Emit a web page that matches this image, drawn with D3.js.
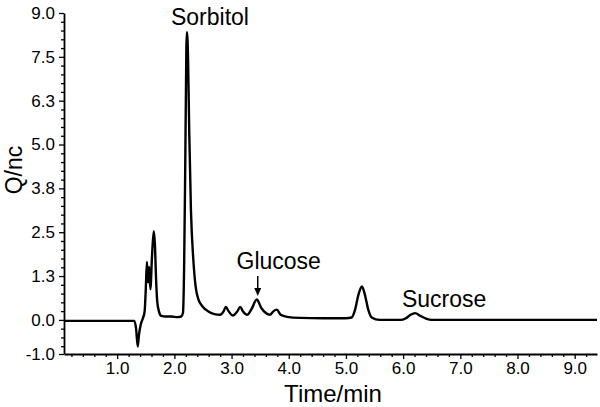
<!DOCTYPE html>
<html><head><meta charset="utf-8">
<script src="https://cdn.jsdelivr.net/npm/d3@7"></script>
<style>
body{margin:0;background:#fff;}
svg text{font-family:"Liberation Sans",Arial,sans-serif;fill:#000;}
</style></head>
<body><svg id="c" width="600" height="407"></svg>
<script>
// ---- data ----
const time = [0.07,0.80,1.30,1.33,1.36,1.38,1.41,1.45,1.48,1.50,1.52,1.54,1.56,1.58,1.61,1.64,1.66,1.68,1.70,1.73,1.77,1.85,1.95,2.05,2.12,2.15,2.17,2.19,2.21,2.22,2.24,2.26,2.29,2.33,2.37,2.42,2.50,2.60,2.70,2.80,2.86,2.90,2.95,3.02,3.10,3.15,3.20,3.27,3.35,3.44,3.52,3.60,3.67,3.73,3.79,3.86,3.97,4.20,4.60,5.00,5.10,5.16,5.22,5.28,5.33,5.39,5.45,5.59,5.95,6.05,6.13,6.21,6.30,6.40,6.50,9.39];
const signal = [-0.03,-0.03,-0.03,-0.25,-0.78,-0.45,-0.15,0.05,0.25,0.9,1.7,1.1,1.55,0.9,1.9,2.6,2.2,1.2,0.55,0.25,0.12,0.1,0.1,0.08,0.1,0.2,1.5,4.5,8.0,8.44,7.6,5.5,3.2,1.8,1.0,0.6,0.38,0.24,0.17,0.15,0.25,0.38,0.25,0.13,0.25,0.38,0.25,0.15,0.32,0.6,0.35,0.2,0.15,0.25,0.3,0.15,0.09,0.06,0.05,0.05,0.07,0.3,0.75,0.98,0.75,0.3,0.07,0.0,0.0,0.05,0.15,0.2,0.12,0.04,0.0,0.0];
const yTickValues = [-1.0, 0, 1.2857, 2.5714, 3.8571, 5.1429, 6.4286, 7.7143, 9.0];
const yTickLabels = ["-1.0","0.0","1.3","2.5","3.8","5.0","6.3","7.5","9.0"];
const xTickValues = [1,2,3,4,5,6,7,8,9];
const xTickLabels = ["1.0","2.0","3.0","4.0","5.0","6.0","7.0","8.0","9.0"];
const peakNames = ["Sorbitol","Glucose","Sucrose"];
const peakTimes = [2.22, 3.44, 6.21];

// ---- layout ----
const svg = d3.select("#c");
const x = d3.scaleLinear().domain([0.07, 9.39]).range([64, 597]);
const y = d3.scaleLinear().domain([-1, 9]).range([354, 13]);

// minor ticks
const xMinor = d3.range(0.2, 9.39, 0.2).filter(v => Math.abs(v - Math.round(v)) > 1e-6);
const yMinor = [];
for (let i = 1; i < yTickValues.length - 1; i++) {
  const a = yTickValues[i], b = yTickValues[i+1];
  for (let k = 1; k < 5; k++) yMinor.push(a + (b - a) * k / 5);
}
for (let k = 1; k < 4; k++) yMinor.push(-k * (9/7) / 5);

const gx = svg.append("g").attr("transform", `translate(0,${y(-1)})`);
gx.call(d3.axisBottom(x).tickValues(xMinor).tickFormat("").tickSize(3).tickSizeOuter(0));
gx.append("g").call(d3.axisBottom(x).tickValues(xTickValues).tickFormat((d,i)=>xTickLabels[i]).tickSize(5).tickSizeOuter(0))
  .call(g=>g.select(".domain").remove());
const gy = svg.append("g").attr("transform", `translate(${x(0.07)},0)`);
gy.call(d3.axisLeft(y).tickValues(yMinor).tickFormat("").tickSize(3).tickSizeOuter(0));
gy.append("g").call(d3.axisLeft(y).tickValues(yTickValues).tickFormat((d,i)=>yTickLabels[i]).tickSize(5).tickSizeOuter(0))
  .call(g=>g.select(".domain").remove());

svg.selectAll(".domain").attr("stroke","#000").attr("stroke-width",1.8);
svg.selectAll(".tick line").attr("stroke","#000").attr("stroke-width",1.3);
gx.selectAll(".tick text").attr("font-size",17).attr("font-family","Liberation Sans, Arial, sans-serif");
gy.selectAll(".tick text").attr("font-size",17).attr("dx","-1").attr("font-family","Liberation Sans, Arial, sans-serif");

// axis titles
svg.append("text").attr("x", 333).attr("y", 402).attr("text-anchor","middle")
  .attr("font-size", 24).text("Time/min");
svg.append("text").attr("transform","translate(22,170) rotate(-90)").attr("text-anchor","middle")
  .attr("font-size", 23).text("Q/nc");

// trace
const pts = time.map((t,i)=>[t, signal[i]]);
svg.append("path").datum(pts)
  .attr("fill","none").attr("stroke","#000").attr("stroke-width",2.4).attr("stroke-linejoin","round")
  .attr("d", d3.line().x(d=>x(d[0])).y(d=>y(d[1])).curve(d3.curveMonotoneX));

// annotations
svg.append("text").attr("x", x(peakTimes[0]) + 23).attr("y", 25).attr("text-anchor","middle")
  .attr("font-size", 23).text(peakNames[0]);
svg.append("text").attr("x", x(peakTimes[1]) + 22).attr("y", 269).attr("text-anchor","middle")
  .attr("font-size", 23).text(peakNames[1]);
svg.append("text").attr("x", x(peakTimes[2]) + 29).attr("y", 307).attr("text-anchor","middle")
  .attr("font-size", 23).text(peakNames[2]);

// arrow to glucose
const ax = x(peakTimes[1]) + 1;
svg.append("line").attr("x1", ax).attr("x2", ax).attr("y1", 276).attr("y2", 290)
  .attr("stroke","#000").attr("stroke-width",1.5);
svg.append("path").attr("d", `M${ax-3.5},${288} L${ax+3.5},${288} L${ax},${296} Z`).attr("fill","#000");
</script></body></html>
